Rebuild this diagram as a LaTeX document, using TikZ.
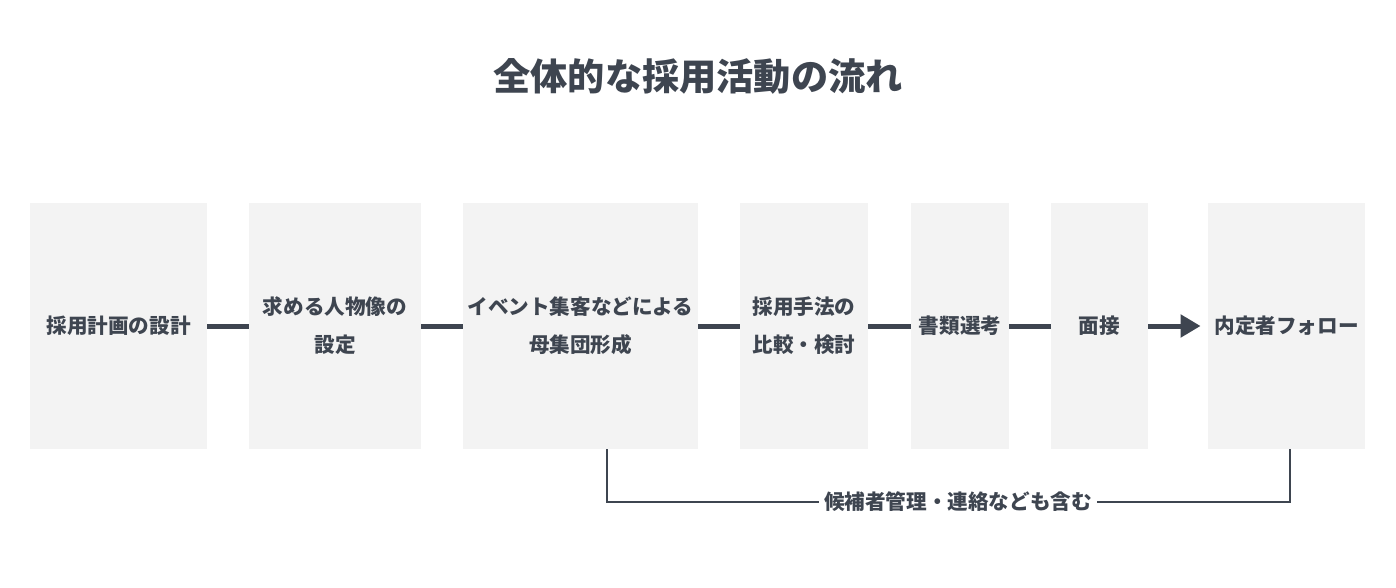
\documentclass[tikz,border=0pt]{standalone}
\usepackage{fontspec}
\setmainfont{Noto Sans CJK JP}
\usetikzlibrary{arrows.meta}
\definecolor{ink}{HTML}{3E4550}
\definecolor{boxgray}{HTML}{F3F3F3}

\begin{document}
\begin{tikzpicture}[x=0.5pt,y=-0.5pt,
	stage/.style={fill=boxgray, text=ink, align=center, inner sep=0pt, minimum height=123pt, font=\bfseries\fontsize{10.3}{19}\selectfont},
	link/.style={ink, line width=2.5pt},
	note/.style={ink, line width=1pt}]
	\useasboundingbox (0,0) rectangle (1396,588);
	\node[text=ink, font=\bfseries\fontsize{18.6}{20}\selectfont] (title) at (698,76) {全体的な採用活動の流れ};
	
	\node[stage, minimum width=88.5pt] (plan) at (118.5,326) {採用計画の設計};
	\node[stage, minimum width=86pt] (persona) at (335,326) {求める人物像の\\設定};
	\node[stage, minimum width=117.5pt] (pool) at (580.5,326) {イベント集客などによる\\母集団形成};
	\node[stage, minimum width=64pt] (method) at (804,326) {採用手法の\\比較・検討};
	\node[stage, minimum width=49pt] (docs) at (960,326) {書類選考};
	\node[stage, minimum width=48.5pt] (interview) at (1099.5,326) {面接};
	\node[stage, minimum width=78.5pt] (follow) at (1286.5,326) {内定者フォロー};
	
	\draw[link] (plan) -- (persona);
	\draw[link] (persona) -- (pool);
	\draw[link] (pool) -- (method);
	\draw[link] (method) -- (docs);
	\draw[link] (docs) -- (interview);
	\draw[link, -{Triangle[length=10pt, width=11pt]}] (interview) -- ([xshift=-3.5pt]follow.west);
	
	\node[text=ink, inner xsep=2.5pt, font=\bfseries\fontsize{10.3}{12}\selectfont] (manage) at (958,502) {候補者管理・連絡なども含む};
	\draw[note] ([xshift=13.25pt]pool.south) |- (manage.west);
	\draw[note] ([xshift=1.75pt]follow.south) |- (manage.east);
\end{tikzpicture}
\end{document}
